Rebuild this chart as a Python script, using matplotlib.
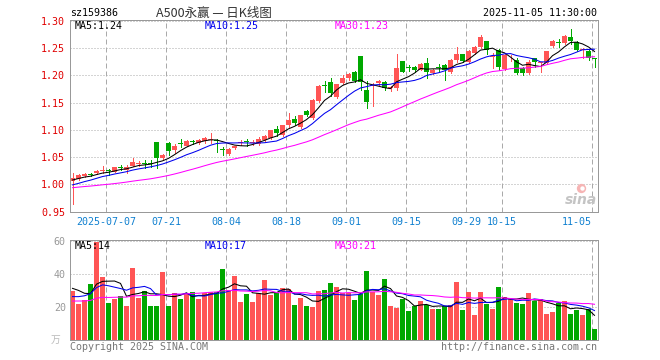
import matplotlib
matplotlib.use('Agg')
import matplotlib.pyplot as plt
import numpy as np
import pandas as pd

# daily candles, 2025-06-27 .. 2025-11-05 (88 trading days)
opens = [1.006, 1.010, 1.015, 1.019, 1.021, 1.024, 1.026, 1.023, 1.032, 1.027,
         1.034, 1.037, 1.039, 1.038, 1.078, 1.048, 1.076, 1.063, 1.075, 1.071,
         1.080, 1.076, 1.080, 1.082, 1.081, 1.064, 1.056, 1.067, 1.075, 1.080,
         1.075, 1.074, 1.082, 1.085, 1.101, 1.090, 1.109, 1.119, 1.106, 1.134,
         1.121, 1.153, 1.181, 1.187, 1.161, 1.186, 1.195, 1.207, 1.236, 1.173,
         1.180, 1.186, 1.187, 1.176, 1.176, 1.226, 1.215, 1.215, 1.210, 1.222,
         1.204, 1.214, 1.219, 1.207, 1.228, 1.239, 1.225, 1.242, 1.252, 1.263,
         1.234, 1.247, 1.211, 1.231, 1.228, 1.213, 1.204, 1.231, 1.222, 1.223,
         1.254, 1.260, 1.259, 1.271, 1.262, 1.247, 1.245, 1.231]
highs = [1.021, 1.018, 1.020, 1.021, 1.026, 1.034, 1.028, 1.031, 1.036, 1.036,
         1.049, 1.042, 1.045, 1.045, 1.078, 1.056, 1.077, 1.074, 1.084, 1.081,
         1.082, 1.084, 1.087, 1.094, 1.083, 1.068, 1.066, 1.071, 1.082, 1.083,
         1.081, 1.086, 1.090, 1.100, 1.107, 1.109, 1.131, 1.125, 1.128, 1.137,
         1.157, 1.183, 1.190, 1.195, 1.185, 1.200, 1.205, 1.208, 1.236, 1.190,
         1.186, 1.192, 1.190, 1.181, 1.239, 1.227, 1.219, 1.217, 1.223, 1.231,
         1.212, 1.220, 1.220, 1.230, 1.252, 1.240, 1.246, 1.254, 1.275, 1.264,
         1.241, 1.249, 1.240, 1.237, 1.231, 1.215, 1.228, 1.232, 1.225, 1.245,
         1.265, 1.266, 1.274, 1.285, 1.264, 1.250, 1.246, 1.232]
lows = [0.963, 1.007, 1.013, 1.015, 1.019, 1.020, 1.017, 1.022, 1.027, 1.021,
        1.033, 1.033, 1.030, 1.032, 1.029, 1.046, 1.054, 1.057, 1.068, 1.070,
        1.074, 1.074, 1.076, 1.076, 1.060, 1.054, 1.054, 1.065, 1.072, 1.071,
        1.072, 1.072, 1.080, 1.083, 1.089, 1.088, 1.106, 1.109, 1.104, 1.125,
        1.119, 1.151, 1.170, 1.163, 1.159, 1.184, 1.192, 1.188, 1.173, 1.141,
        1.143, 1.183, 1.173, 1.172, 1.174, 1.206, 1.208, 1.206, 1.209, 1.195,
        1.203, 1.206, 1.192, 1.205, 1.225, 1.224, 1.222, 1.240, 1.250, 1.239,
        1.214, 1.209, 1.210, 1.227, 1.203, 1.201, 1.202, 1.216, 1.207, 1.221,
        1.253, 1.253, 1.258, 1.258, 1.245, 1.231, 1.229, 1.216]
closes = [1.011, 1.017, 1.019, 1.017, 1.025, 1.025, 1.024, 1.031, 1.030, 1.032,
          1.040, 1.039, 1.037, 1.037, 1.048, 1.054, 1.062, 1.071, 1.074, 1.080,
          1.078, 1.082, 1.085, 1.083, 1.079, 1.063, 1.065, 1.070, 1.077, 1.077,
          1.076, 1.084, 1.089, 1.099, 1.094, 1.109, 1.118, 1.112, 1.128, 1.127,
          1.155, 1.180, 1.180, 1.167, 1.184, 1.196, 1.203, 1.190, 1.187, 1.151,
          1.183, 1.190, 1.176, 1.178, 1.214, 1.207, 1.213, 1.209, 1.221, 1.207,
          1.210, 1.213, 1.210, 1.228, 1.239, 1.226, 1.244, 1.252, 1.271, 1.247,
          1.236, 1.216, 1.237, 1.232, 1.204, 1.204, 1.225, 1.225, 1.223, 1.244,
          1.264, 1.259, 1.272, 1.263, 1.247, 1.248, 1.231, 1.230]
# volume, 万手
volumes = [29.7, 21.8, 24.2, 33.9, 59.6, 38.2, 22.4, 24.6, 26.7, 20.6,
           43.6, 25.5, 29.7, 20.6, 20.6, 41.2, 20.6, 28.5, 24.8, 27.9,
           29.1, 24.8, 28.5, 29.1, 29.1, 43.0, 30.3, 38.8, 23.0, 27.9,
           23.0, 28.5, 36.4, 27.3, 28.5, 31.5, 30.9, 21.2, 25.5, 20.6,
           20.0, 29.7, 30.3, 34.5, 32.1, 28.5, 28.5, 24.2, 27.9, 41.8,
           29.1, 27.3, 37.0, 20.6, 19.4, 24.8, 17.6, 20.6, 23.6, 21.2,
           18.8, 18.8, 20.6, 21.2, 35.2, 18.2, 29.1, 15.2, 29.1, 21.8,
           18.8, 32.1, 26.1, 24.8, 22.4, 21.8, 28.5, 23.6, 24.8, 15.8,
           17.0, 22.4, 23.6, 15.8, 18.2, 15.2, 18.8, 6.7]

# the 29 sessions before the window, only used to start the moving averages
warmup_close = [0.985, 0.988, 0.990, 0.992, 0.989, 0.993, 0.995, 0.991, 0.988, 0.990,
                0.994, 0.996, 0.993, 0.990, 0.992, 0.995, 0.993, 0.990, 0.988, 0.991,
                0.989, 0.987, 0.990, 0.992, 0.992, 1.003, 1.006, 1.009, 1.010]
warmup_vol = [21, 24, 23, 20, 22, 25, 21, 23, 22, 20,
              24, 22, 21, 23, 22, 25, 21, 22, 23, 21,
              22, 19, 21, 23, 21.5, 28, 33, 35, 30.8]

date_labels = ['2025-07-07', '07-21', '08-04', '08-18', '09-01', '09-15', '09-29', '10-15', '11-05']
date_idx = [6, 16, 26, 36, 46, 56, 66, 72, 87]
price_ticks = [0.95, 1.00, 1.05, 1.10, 1.15, 1.20, 1.25, 1.30]
vol_ticks = [20, 40, 60]

RED = '#ff5555'
GREEN = '#00a800'
MA_COLORS = ['#000000', '#0000ee', '#ff00ff']
FRAME = '#999999'
GRID = '#aaaaaa'
PX = 0.72  # one pixel in points at 100 dpi

plt.rcParams['font.family'] = ['DejaVu Sans Mono', 'Noto Sans CJK SC']
plt.rcParams['font.size'] = 7.2

W, H = 660, 360
fig = plt.figure(figsize=(6.6, 3.6), dpi=100)


def px_axes(left, top, right, bottom):
    return fig.add_axes([left / W, 1 - bottom / H, (right - left) / W, (bottom - top) / H])


def moving(values, warm, n):
    s = pd.Series(list(warm) + list(values))
    return s.rolling(n).mean().values[len(warm):]


def style_frame(a):
    for sp in a.spines.values():
        sp.set_color(FRAME)
        sp.set_linewidth(PX)
    a.tick_params(length=0)
    a.set_axisbelow(True)


def ma_labels(a, texts, height):
    for xoff, txt, col in zip((5, 135, 265), texts, MA_COLORS):
        a.text(xoff / 527.5, 1 - 6 / height, txt, transform=a.transAxes,
               color=col, va='center', ha='left')


x = np.arange(len(closes))
o, h, l, c = (np.array(v) for v in (opens, highs, lows, closes))
colors = np.where(c >= o, RED, GREEN)
grid_x = np.array(date_idx) - 0.38

# ---- price panel
ax = px_axes(70, 20, 597.5, 211.5)
style_frame(ax)
ax.set_xlim(-0.42, 87.5)
ax.set_ylim(0.95, 1.3017)

ax.vlines(x, l, h, colors=colors, lw=PX, antialiased=False)
body = np.maximum(np.abs(c - o), 0.0018)
ax.bar(x, body, 0.8, bottom=np.minimum(o, c), color=colors, linewidth=0, antialiased=False)

ma_p = [moving(closes, warmup_close, n) for n in (5, 10, 30)]
for m, col in zip(ma_p, MA_COLORS):
    ax.plot(x, m, color=col, lw=0.75)

ax.set_yticks(price_ticks)
ax.set_yticklabels(['%.2f' % t for t in price_ticks], color='#e00000')
ax.tick_params(axis='y', pad=3.5)
ax.yaxis.grid(True, color=GRID, lw=PX, linestyle=(0, (1, 2)))
ax.set_xticks(grid_x)
ax.set_xticklabels(date_labels, color='#1080d0')
ax.tick_params(axis='x', pad=4)
ax.get_xticklabels()[-1].set_ha('right')
ax.xaxis.grid(True, color=GRID, lw=PX, linestyle=(0, (5, 3)))

ma_labels(ax, ['MA5:%.2f' % ma_p[0][-1], 'MA10:%.2f' % ma_p[1][-1], 'MA30:%.2f' % ma_p[2][-1]], 191.5)

# sina watermark
ax.scatter([0.968], [0.125], s=45, color='#f6b4b4', transform=ax.transAxes, zorder=1, linewidths=0)
ax.scatter([0.970], [0.125], s=10, color='white', transform=ax.transAxes, zorder=1, linewidths=0)
ax.text(0.968, 0.06, 'sina', transform=ax.transAxes, ha='center', va='center',
        family='DejaVu Sans', fontsize=10, fontweight='bold', style='italic', color='#c4c4c4', zorder=1)

# ---- volume panel
axv = px_axes(70, 240, 597.5, 340)
style_frame(axv)
axv.set_xlim(-0.42, 87.5)
axv.set_ylim(0, 60.6)
axv.bar(x, volumes, 0.8, color=colors, linewidth=0, antialiased=False)

ma_v = [moving(volumes, warmup_vol, n) for n in (5, 10, 30)]
for m, col in zip(ma_v, MA_COLORS):
    axv.plot(x, m, color=col, lw=0.75)

axv.set_yticks(vol_ticks)
axv.set_yticklabels([str(t) for t in vol_ticks], color='#999999')
axv.tick_params(axis='y', pad=3)
axv.yaxis.grid(True, color=GRID, lw=PX, linestyle=(0, (1, 2)))
axv.set_xticks(grid_x)
axv.set_xticklabels([])
axv.xaxis.grid(True, color=GRID, lw=PX, linestyle=(0, (5, 3)))

ma_labels(axv, ['MA5:%d' % int(ma_v[0][-1]), 'MA10:%d' % int(ma_v[1][-1]), 'MA30:%d' % int(ma_v[2][-1])], 100)

# ---- header and footer texts
fig.text(70 / W, 1 - 13.5 / H, 'sz159386', ha='left', va='center', color='#000000')
fig.text(214 / W, 1 - 13.5 / H, 'A500永赢 — 日K线图', ha='center', va='center',
         family=['Noto Sans CJK SC', 'DejaVu Sans'], fontsize=9, color='#333333')
fig.text(597 / W, 1 - 13.5 / H, '2025-11-05 11:30:00', ha='right', va='center', color='#000000')
fig.text(56 / W, 1 - 340 / H, '万', ha='center', va='center',
         family=['Noto Sans CJK SC'], fontsize=7, color='#bbbbbb')
fig.text(70 / W, 1 - 347 / H, 'Copyright 2025 SINA.COM', ha='left', va='center', color='#777777')
fig.text(597 / W, 1 - 347 / H, 'http://finance.sina.com.cn', ha='right', va='center', color='#777777')

fig.savefig('out.png', dpi=100)
